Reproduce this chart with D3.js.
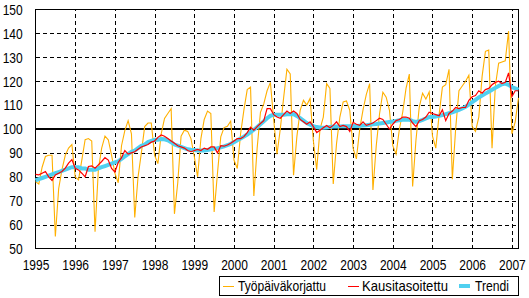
<!DOCTYPE html>
<html>
<head>
<meta charset="utf-8">
<script src="https://cdn.jsdelivr.net/npm/d3@7"></script>
<style>
body { margin: 0; background: #fff; }
svg text { font-family: "Liberation Sans", Arial, sans-serif; }
</style>
</head>
<body>
<svg id="chart" width="529" height="298"></svg>
<script>
'use strict';

// year labels on the x axis, one every 12 months starting Jan 1995
var years = ['1995', '1996', '1997', '1998', '1999', '2000', '2001',
             '2002', '2003', '2004', '2005', '2006', '2007'];
var yTicks = [50, 60, 70, 80, 90, 100, 110, 120, 130, 140, 150];
var seriesNames = ['Työpäiväkorjattu', 'Kausitasoitettu', 'Trendi'];

// monthly values, Jan 1995 .. Mar 2007
var tyopaiva = [
    78, 77, 84, 88.5, 89, 89, 55, 75, 83, 89, 92, 93.5,            // 1995
    80, 78.7, 87, 95.5, 96, 95, 57, 83, 92, 97, 95.5, 89,          // 1996
    81.5, 77.5, 93, 99.3, 103.5, 98, 63, 80, 90, 101, 102.5, 102.5, // 1997
    89, 85.5, 98, 104.4, 106.5, 108.5, 64.5, 77.5, 97, 99.5, 99, 96, // 1998
    88.5, 80, 96, 104, 107.5, 106.5, 65.3, 81.4, 96.7, 100.6, 101.1, 103.3, // 1999
    87, 83.5, 98, 108, 116.5, 117.5, 72, 92, 107, 110.5, 116, 119.5, // 2000
    104, 89.5, 100, 113, 125, 123, 80.7, 96.7, 107.8, 112, 110, 112.8, // 2001
    95, 83, 100, 105, 119, 117, 77, 94, 105, 111.3, 111.7, 107.8,   // 2002
    92, 87.5, 100, 108, 114.5, 119, 74.5, 93, 106.4, 115.4, 113.3, 107.8, // 2003
    93, 89.5, 100, 107, 117, 123, 76, 95.3, 109.2, 115, 112.5, 115.5, // 2004
    97, 92, 106, 117.5, 118.5, 125, 79, 100, 116, 118, 120, 122.5,  // 2005
    101, 99, 105, 122, 132.5, 133, 92, 118, 127.5, 128, 128.5, 141, // 2006
    98, 103, 113                                                     // 2007
];

var kausi = [
    81, 80.8, 81.5, 82.2, 80, 78.5, 80.8, 81.5, 82.2, 83.6, 85.7, 87.2,
    83.6, 82.9, 81.5, 80, 84.3, 84.6, 83.6, 85, 86.4, 88, 87, 83.5,
    82, 86, 88, 91, 89.5, 90, 90.5, 91.5, 92.5, 93, 93.5, 94.5,
    95, 96.5, 97.5, 97, 96, 95, 94, 93, 92.5, 92, 91, 90.5,
    91, 91.5, 91, 92, 91.5, 92.5, 92.5, 90, 93, 92.8, 93.3, 94,
    95, 96, 96, 96.8, 98.5, 100.8, 99.5, 101, 102.3, 103.5, 108.5, 108.5,
    106, 105, 104.5, 106, 107.5, 106.5, 107.5, 106.5, 104, 103, 102, 103,
    101, 98.5, 99.5, 100.5, 101.5, 100.5, 101.5, 103, 101, 101.5, 101, 99,
    102.8, 102, 101.5, 103, 101.5, 102, 102.5, 103.5, 104.5, 104, 102, 100,
    102, 103.5, 104, 105, 105, 104.5, 102.5, 101, 103.5, 104, 105, 107,
    106.5, 106, 105.5, 108, 103.5, 106.5, 107.5, 109, 108.5, 109, 109, 112,
    113.5, 114, 116, 115, 116.5, 117, 118.5, 119.5, 120, 119, 119.5, 123.5,
    113.5, 116, 116
];

var trendi = [
    78.5, 79, 79.5, 80, 80.5, 81, 81.5, 82, 82.5, 83, 83.5, 84,
    84, 84, 83.5, 83.5, 83, 83, 83, 83.5, 84, 84.5, 85, 85.5,
    86, 86.5, 87.5, 88.5, 89.5, 90.5, 91, 92, 93, 93.5, 94.5, 95,
    95.5, 95.5, 95.8, 95.7, 95.3, 94.5, 93.5, 93, 92.5, 92, 91.5, 91.3,
    91.2, 91, 91, 91, 91.2, 91.5, 91.8, 92, 92.3, 92.7, 93.2, 93.8,
    94.5, 95.3, 96, 96.8, 97.7, 98.7, 99.7, 100.8, 102, 103.2, 104.5, 105.5,
    106, 106, 106, 106, 106.2, 106.3, 106.2, 105.5, 104.5, 103.5, 102.5, 101.8,
    101.2, 100.8, 100.6, 100.5, 100.6, 100.8, 101, 101, 101.1, 101.2, 101.2, 101.2,
    101.3, 101.3, 101.4, 101.5, 101.6, 101.8, 102, 102.1, 102.3, 102.5, 102.7, 102.9,
    103.1, 103.4, 103.7, 103.9, 104, 103.9, 103.3, 103, 103.3, 103.8, 104.4, 105,
    105, 105.2, 105.5, 105.8, 106.2, 106.6, 107, 107.5, 108, 108.6, 109.3, 110.2,
    111.2, 112.2, 113.2, 114, 114.8, 115.6, 116.4, 117.2, 118, 118.7, 119, 118.5,
    117.5, 117, 116.5
];

var baseline = 100;

var svg = d3.select('#chart');
var plotLeft = 35.5, plotRight = 518.5, plotTop = 9.5, plotBottom = 248.5;

var x = d3.scaleLinear().domain([0, tyopaiva.length - 1]).range([plotLeft, plotRight]);
var y = d3.scaleLinear().domain([50, 150]).range([plotBottom, plotTop]);

var yearIdx = years.map(function(d, i) { return i * 12; });

// dashed grid
var gridX = svg.append('g')
    .attr('transform', 'translate(0,' + plotBottom + ')')
    .call(d3.axisBottom(x).tickValues(yearIdx.slice(1)).tickSize(-(plotBottom - plotTop)).tickFormat(''));
var gridY = svg.append('g')
    .attr('transform', 'translate(' + plotLeft + ',0)')
    .call(d3.axisLeft(y).tickValues(yTicks.slice(1, -1)).tickSize(-(plotRight - plotLeft)).tickFormat(''));
[gridX, gridY].forEach(function(g) {
    g.select('.domain').remove();
    g.selectAll('line').attr('stroke', '#000').attr('stroke-dasharray', '4,3')
        .attr('shape-rendering', 'crispEdges');
});

// plot frame
svg.append('rect')
    .attr('x', plotLeft).attr('y', plotTop)
    .attr('width', plotRight - plotLeft).attr('height', plotBottom - plotTop)
    .attr('fill', 'none').attr('stroke', '#000')
    .attr('shape-rendering', 'crispEdges');

// axis labels
var axX = svg.append('g')
    .attr('transform', 'translate(0,' + plotBottom + ')')
    .call(d3.axisBottom(x).tickValues(yearIdx).tickSize(0)
        .tickFormat(function(d) { return years[d / 12]; }));
var axY = svg.append('g')
    .attr('transform', 'translate(' + plotLeft + ',0)')
    .call(d3.axisLeft(y).tickValues(yTicks).tickSize(0).tickPadding(16));
[axX, axY].forEach(function(g) {
    g.select('.domain').remove();
    g.attr('font-size', 15).attr('font-family', null);
    g.selectAll('text').attr('fill', '#000').attr('transform', 'scale(0.8,1)');
});
axX.selectAll('text').attr('y', 11).attr('dy', '0.71em');

// reference line at 100
svg.append('line')
    .attr('x1', plotLeft).attr('x2', x(yearIdx[yearIdx.length - 1]))
    .attr('y1', y(baseline) - 0.5).attr('y2', y(baseline) - 0.5)
    .attr('stroke', '#000').attr('stroke-width', 2)
    .attr('shape-rendering', 'crispEdges');

var line = d3.line()
    .x(function(d, i) { return x(i); })
    .y(function(d) { return y(d); });

var series = [
    { name: seriesNames[0], values: tyopaiva, color: '#FFB000', width: 1.1 },
    { name: seriesNames[2], values: trendi, color: '#50D0F0', width: 4 },
    { name: seriesNames[1], values: kausi, color: '#FF0000', width: 1.2 }
];

series.forEach(function(s) {
    svg.append('path')
        .datum(s.values)
        .attr('d', line)
        .attr('fill', 'none')
        .attr('stroke', s.color)
        .attr('stroke-width', s.width);
});

// legend
var legend = svg.append('g');
legend.append('rect')
    .attr('x', 219.5).attr('y', 276.5).attr('width', 299).attr('height', 19)
    .attr('fill', '#fff').attr('stroke', '#000')
    .attr('shape-rendering', 'crispEdges');

var legendItems = [
    { name: seriesNames[0], color: '#FFB000', width: 1, lx: 223, tx: 238, tw: 88 },
    { name: seriesNames[1], color: '#FF0000', width: 1, lx: 348, tx: 362, tw: 86 },
    { name: seriesNames[2], color: '#50D0F0', width: 4, lx: 459, tx: 475, tw: 34 }
];
legendItems.forEach(function(d) {
    legend.append('line')
        .attr('x1', d.lx).attr('x2', d.lx + 11)
        .attr('y1', 286).attr('y2', 286)
        .attr('stroke', d.color).attr('stroke-width', d.width)
        .attr('shape-rendering', 'crispEdges');
    legend.append('text')
        .attr('x', d.tx).attr('y', 291)
        .attr('font-size', 15)
        .attr('textLength', d.tw)
        .attr('lengthAdjust', 'spacingAndGlyphs')
        .text(d.name);
});
</script>
</body>
</html>
